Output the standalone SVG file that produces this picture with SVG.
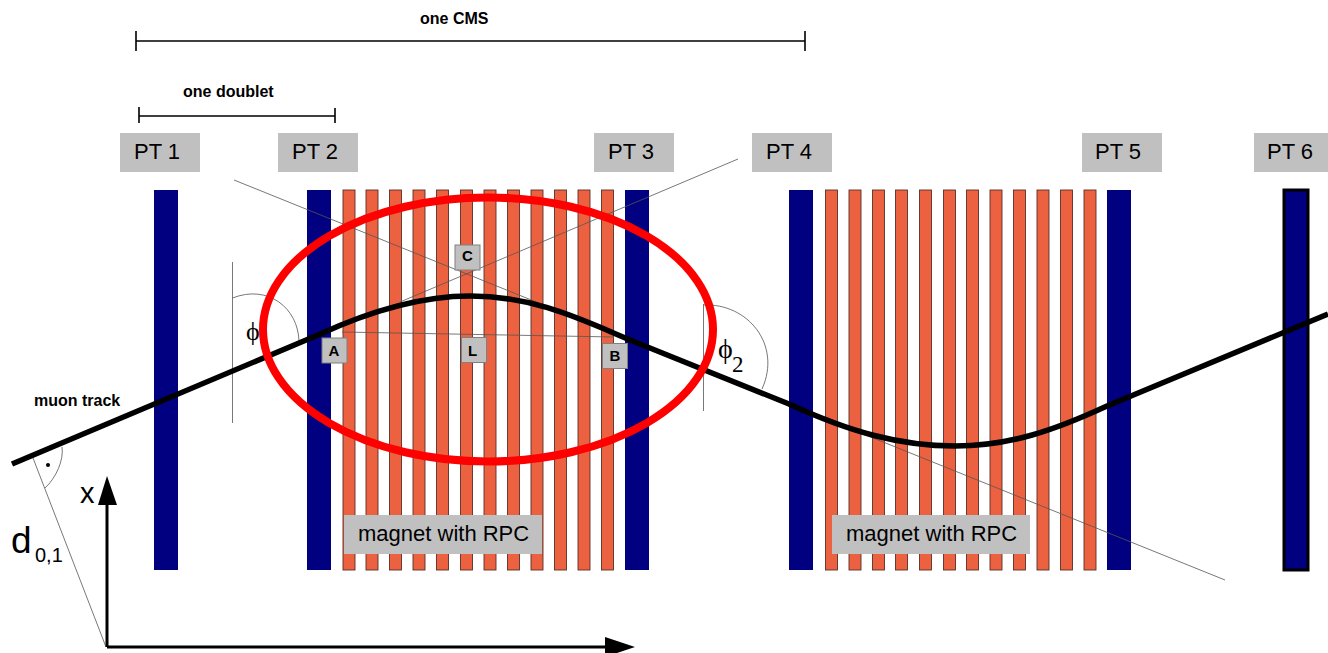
<svg xmlns="http://www.w3.org/2000/svg" width="1328" height="653" viewBox="0 0 1328 653">
<style>
text{font-family:"Liberation Sans",Arial,sans-serif;fill:#000}
.pt{fill:#c0c0c0}
.lbl{font-size:22px}
.b{font-size:16px;font-weight:bold}
.blue{fill:#000080}
.rpc rect{fill:#ec6240;stroke:#5a3028;stroke-width:.9}
.thin{fill:none;stroke:#555;stroke-width:.8}
.dim{fill:none;stroke:#000;stroke-width:1.6}
.sb{fill:#c0c0c0;stroke:#808080;stroke-width:1}
.sl{font-size:15px;font-weight:bold;text-anchor:middle}
.sym{font-family:"Liberation Serif","DejaVu Serif",serif}
</style>
<rect width="1328" height="653" fill="#fff"/>
<g id="chambers">
<rect id="chamber-1" class="blue" x="154" y="190" width="24" height="380"/>
<rect id="chamber-2" class="blue" x="307" y="190" width="24" height="380"/>
<rect id="chamber-3" class="blue" x="625" y="190" width="24" height="380"/>
<rect id="chamber-4" class="blue" x="789" y="190" width="24" height="380"/>
<rect id="chamber-5" class="blue" x="1107" y="190" width="24" height="380"/>
<rect id="chamber-6" class="blue" x="1284" y="190" width="24" height="380" stroke="#000" stroke-width="3"/>
</g>
<g id="magnet-1" class="rpc">
<rect x="343" y="190" width="12" height="380"/><rect x="366" y="190" width="12" height="380"/><rect x="389.500" y="190" width="12" height="380"/><rect x="413" y="190" width="12" height="380"/><rect x="436.500" y="190" width="12" height="380"/><rect x="460.500" y="190" width="12" height="380"/><rect x="484" y="190" width="12" height="380"/><rect x="507.500" y="190" width="12" height="380"/><rect x="531" y="190" width="12" height="380"/><rect x="554.500" y="190" width="12" height="380"/><rect x="578" y="190" width="12" height="380"/><rect x="601.500" y="190" width="12" height="380"/>
</g>
<g id="magnet-2" class="rpc">
<rect x="825.500" y="190" width="12" height="380"/><rect x="849" y="190" width="12" height="380"/><rect x="872.500" y="190" width="12" height="380"/><rect x="895.500" y="190" width="12" height="380"/><rect x="919.500" y="190" width="12" height="380"/><rect x="943.500" y="190" width="12" height="380"/><rect x="966.500" y="190" width="12" height="380"/><rect x="990" y="190" width="12" height="380"/><rect x="1013.500" y="190" width="12" height="380"/><rect x="1037" y="190" width="12" height="380"/><rect x="1060.500" y="190" width="12" height="380"/><rect x="1084" y="190" width="12" height="380"/>
</g>
<g id="connectors">
<path class="thin" d="M234 180L1225 580"/>
<path class="thin" d="M738 159L400 302"/>
<path class="thin" d="M342 332L614 337"/>
<path class="thin" d="M232.500 262V423"/>
<path class="thin" d="M703.500 304V411"/>
<path class="thin" d="M232.500 298C268 284 298 308 299 341"/>
<path class="thin" d="M703.500 305C748 303 782 345 762 389"/>
<path class="thin" d="M33 458L106 647"/>
<path class="thin" d="M62 447C64 460 56 478 45 488"/>
<circle cx="48" cy="465" r="2" fill="#000"/>
<path id="muon-track" fill="none" stroke="#000" stroke-width="5.500" d="M12 464L318 335C370 311 420 296 470 296C540 296 590 324 640 344L789 404C850 432 900 446 955 446C1010 446 1055 430 1107 406L1328 314"/>
<path id="x-axis" fill="none" stroke="#000" stroke-width="3" d="M107 647V505M107 647H606"/>
<path d="M107 476L117 505H98Z" fill="#000"/>
<path d="M605 637L635 647L605 657Z" fill="#000"/>
<path class="dim" d="M136 41H805M136 31V51M805 31V51"/>
<path class="dim" d="M139 116H335M139 107V123M335 108V123"/>
</g>
<g id="pt1"><rect class="pt" x="120" y="133" width="80" height="39"/><text class="lbl" x="134" y="159">PT 1</text></g>
<g id="pt2"><rect class="pt" x="278" y="133" width="80" height="39"/><text class="lbl" x="292" y="159">PT 2</text></g>
<g id="pt3"><rect class="pt" x="594" y="133" width="80" height="39"/><text class="lbl" x="608" y="159">PT 3</text></g>
<g id="pt4"><rect class="pt" x="752" y="133" width="80" height="39"/><text class="lbl" x="766" y="159">PT 4</text></g>
<g id="pt5"><rect class="pt" x="1082" y="133" width="80" height="39"/><text class="lbl" x="1095" y="159">PT 5</text></g>
<g id="pt6"><rect class="pt" x="1254" y="133" width="80" height="39"/><text class="lbl" x="1267" y="159">PT 6</text></g>
<g id="magnet-label-1"><rect class="pt" x="344" y="515" width="198" height="39"/><text class="lbl" x="358" y="541">magnet with RPC</text></g>
<g id="magnet-label-2"><rect class="pt" x="832" y="515" width="198" height="39"/><text class="lbl" x="846" y="541">magnet with RPC</text></g>
<g id="point-a"><rect class="sb" x="322" y="338" width="25" height="25"/><text class="sl" x="334" y="355.500">A</text></g>
<g id="point-c"><rect class="sb" x="455" y="245" width="25" height="25"/><text class="sl" x="467.500" y="261">C</text></g>
<g id="point-l"><rect class="sb" x="461.500" y="337.500" width="25" height="25"/><text class="sl" x="472.500" y="355.500">L</text></g>
<g id="point-b"><rect class="sb" x="602.500" y="343.500" width="25" height="25"/><text class="sl" x="615" y="360.500">B</text></g>
<text class="b" x="420" y="23.500">one CMS</text>
<text class="b" x="183" y="96.500">one doublet</text>
<text class="b" x="34" y="405.500">muon track</text>
<text class="sym" x="246" y="340" font-size="26">ϕ</text>
<text class="sym" x="718" y="358" font-size="28">ϕ</text>
<text class="sym" x="732" y="372" font-size="23">2</text>
<text x="80" y="503" font-size="29">x</text>
<text x="11" y="553" font-size="37">d</text>
<text x="35" y="562" font-size="20">0,1</text>
<ellipse id="highlight" cx="488" cy="329.500" rx="225" ry="132" fill="none" stroke="#f00" stroke-width="8"/>
</svg>
